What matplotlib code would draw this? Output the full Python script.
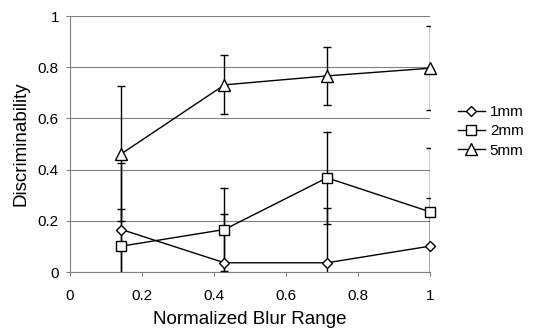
import matplotlib
matplotlib.use("Agg")
import matplotlib.pyplot as plt

plt.rcParams["font.family"] = ["Liberation Sans", "DejaVu Sans"]

# data
blur = [0.143, 0.429, 0.714, 1.0]
series = ["1mm", "2mm", "5mm"]
mean_1mm = [0.166, 0.036, 0.036, 0.101]
err_1mm = [0.26, 0.19, 0.215, 0.19]
mean_2mm = [0.101, 0.166, 0.368, 0.235]
err_2mm = [0.146, 0.163, 0.18, 0.25]
mean_5mm = [0.462, 0.731, 0.766, 0.796]
err_5mm = [0.263, 0.115, 0.113, 0.163]
y_ticks = [0, 0.2, 0.4, 0.6, 0.8, 1]
y_labels = ["0", "0.2", "0.4", "0.6", "0.8", "1"]
x_ticks = [0, 0.2, 0.4, 0.6, 0.8, 1]
x_labels = ["0", "0.2", "0.4", "0.6", "0.8", "1"]

markers = {"1mm": "D", "2mm": "s", "5mm": "^"}
msizes = {"1mm": 5.5, "2mm": 6.5, "5mm": 8}

fig = plt.figure(figsize=(5.51, 3.33), dpi=100)
ax = fig.add_axes([70 / 551, 61 / 333, 360 / 551, 256 / 333])

handles = []
for name, ys, es in zip(series, [mean_1mm, mean_2mm, mean_5mm], [err_1mm, err_2mm, err_5mm]):
    cont = ax.errorbar(
        blur, ys, yerr=es,
        color="black", linewidth=1.0,
        marker=markers[name], markersize=msizes[name],
        markerfacecolor="white", markeredgecolor="black", markeredgewidth=1.0,
        ecolor="black", elinewidth=1.0, capsize=3, capthick=1.0,
        label=name, zorder=3,
    )
    cont[0].set_clip_on(False)
    handles.append(cont[0])

ax.set_xlim(0, 1)
ax.set_ylim(0, 1)
ax.set_yticks(y_ticks, y_labels)
ax.set_xticks(x_ticks, x_labels)
ax.grid(axis="y", color="#808080", linewidth=0.8)
ax.set_axisbelow(True)
for side in ["top", "right"]:
    ax.spines[side].set_visible(False)
ax.spines["left"].set_color("#808080")
ax.spines["bottom"].set_color("#808080")
ax.tick_params(axis="both", labelsize=11, length=3, color="#808080", pad=5)
ax.tick_params(axis="x", pad=9)
ax.set_xlabel("Normalized Blur Range", fontsize=13.5, labelpad=6)
ax.set_ylabel("Discriminability", fontsize=13.5, labelpad=6)

ax.legend(
    handles, series,
    loc="center left", bbox_to_anchor=(1.06, 0.55), frameon=False,
    fontsize=11, handlelength=1.8, handletextpad=0.3, labelspacing=0.35,
    borderaxespad=0,
)

fig.savefig("out.png", dpi=100)
